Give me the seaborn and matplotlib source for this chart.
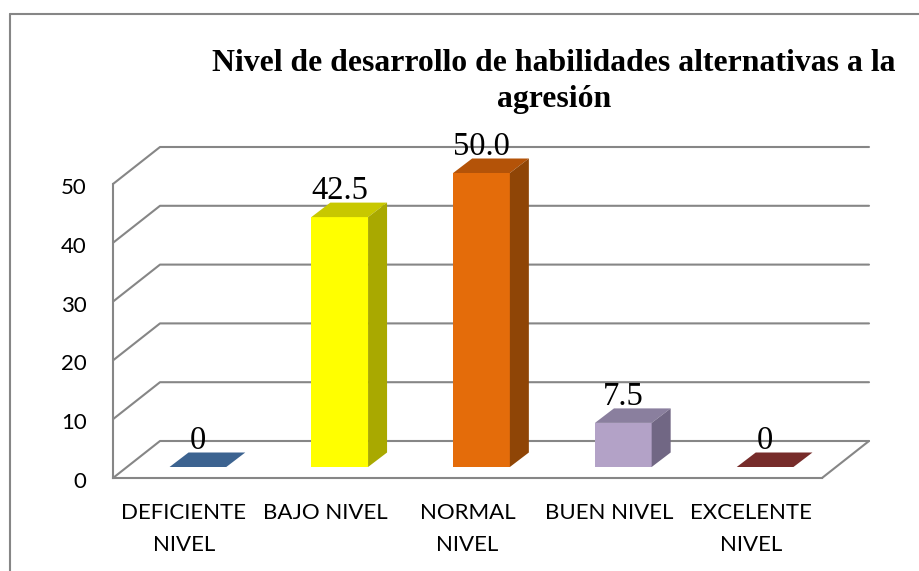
import matplotlib

matplotlib.use("Agg")
import matplotlib.pyplot as plt
import seaborn as sns
from matplotlib.lines import Line2D
from matplotlib.patches import Polygon
from matplotlib.transforms import ScaledTranslation

categories = ["DEFICIENTE\nNIVEL", "BAJO NIVEL", "NORMAL\nNIVEL", "BUEN NIVEL", "EXCELENTE\nNIVEL"]
values = [0, 42.5, 50.0, 7.5, 0]
value_labels = ["0", "42.5", "50.0", "7.5", "0"]
y_ticks = [0, 10, 20, 30, 40, 50]

front_colors = ["#3C6390", "#FFFF00", "#E46C0A", "#B3A2C7", "#772C2A"]
top_colors = ["#3C6390", "#C8C800", "#B45308", "#8A7F9E", "#772C2A"]
side_colors = ["#2D4B6E", "#A9A900", "#8F4506", "#716784", "#5A2120"]

GRID_COLOR = "#868686"
FIG_W, FIG_H = 920, 571
X_PX, Y_PX = 141.8, 5.88  # pixels per category / per value unit


def place(left, bottom_y):
    # axes rectangle from pixel position of its lower left corner
    return [left / FIG_W, 1 - bottom_y / FIG_H, 5 * X_PX / FIG_W, 50 * Y_PX / FIG_H]


sns.set_theme(style="white")
plt.rcParams["font.family"] = ["Lato", "DejaVu Sans"]

fig = plt.figure(figsize=(FIG_W / 100, FIG_H / 100), dpi=100)

# front plane holds the axis labels, bar plane sits a bit deeper
ax_front = fig.add_axes(place(113, 478))
ax = fig.add_axes(place(127, 467))
ax.patch.set_alpha(0)

sns.barplot(
    x=list(range(len(values))),
    y=values,
    hue=list(range(len(values))),
    palette=front_colors,
    saturation=1,
    width=0.4,
    linewidth=0,
    legend=False,
    ax=ax,
    zorder=3,
)
ax.set_xlim(-0.5, 4.5)
ax.set_ylim(0, 50)
ax.axis("off")

# walls: gridlines on the back plane and diagonals to the front plane
back_dx, back_dy = 33 / X_PX, 26 / Y_PX
front_dx, front_dy = -14 / X_PX, -11 / Y_PX
left = -0.5
right = 4.5
for tick in y_ticks:
    ax.plot(
        [left + front_dx, left + back_dx, right + back_dx],
        [tick + front_dy, tick + back_dy, tick + back_dy],
        color=GRID_COLOR,
        lw=1.5,
        clip_on=False,
        zorder=1,
    )
ax.plot(
    [right + front_dx, right + back_dx],
    [front_dy, back_dy],
    color=GRID_COLOR,
    lw=1.5,
    clip_on=False,
    zorder=1,
)

# bar depth: top and side faces follow the drawn bars
bar_dx, bar_dy = 19 / X_PX, 14.5 / Y_PX
bars = sorted(ax.patches, key=lambda p: p.get_x())
for bar, top, side in zip(bars, top_colors, side_colors):
    x0 = bar.get_x()
    x1 = x0 + bar.get_width()
    h = bar.get_height()
    ax.add_patch(
        Polygon(
            [(x0, h), (x1, h), (x1 + bar_dx, h + bar_dy), (x0 + bar_dx, h + bar_dy)],
            facecolor=top,
            edgecolor="none",
            clip_on=False,
            zorder=3,
        )
    )
    ax.add_patch(
        Polygon(
            [(x1, 0), (x1 + bar_dx, bar_dy), (x1 + bar_dx, h + bar_dy), (x1, h)],
            facecolor=side,
            edgecolor="none",
            clip_on=False,
            zorder=3,
        )
    )

for container, label in zip(ax.containers, value_labels):
    ax.bar_label(
        container,
        labels=[label],
        padding=8,
        fontsize=23.5,
        family="Liberation Serif",
        color="black",
        zorder=5,
    )

ax_front.set_xlim(-0.5, 4.5)
ax_front.set_ylim(0, 50)
ax_front.set_xticks(range(len(categories)))
ax_front.set_xticklabels(categories, linespacing=1.75)
ax_front.set_yticks(y_ticks)
ax_front.tick_params(axis="y", length=0, pad=19, labelsize=16, labelcolor="black")
ax_front.tick_params(axis="x", length=0, pad=18, labelsize=16, labelcolor="black")
for name, spine in ax_front.spines.items():
    spine.set_visible(name in ("left", "bottom"))
    spine.set_color(GRID_COLOR)
    spine.set_linewidth(1.5)

# numbers sit slightly below their gridline start
nudge = ScaledTranslation(0, -1.5 / 72, fig.dpi_scale_trans)
for label in ax_front.get_yticklabels():
    label.set_transform(label.get_transform() + nudge)

fig.suptitle(
    "Nivel de desarrollo de habilidades alternativas a la\nagresión",
    x=554 / FIG_W,
    y=1 - 49 / FIG_H,
    va="top",
    ha="center",
    fontsize=22.9,
    fontweight="bold",
    family="Liberation Serif",
    linespacing=1.3,
    color="black",
)

# outer chart frame, cut off on the right and at the bottom
fig.add_artist(Line2D([10 / FIG_W, 1], [1 - 14 / FIG_H] * 2, color=GRID_COLOR, lw=1.5))
fig.add_artist(Line2D([10 / FIG_W] * 2, [0, 1 - 14 / FIG_H], color=GRID_COLOR, lw=1.5))

fig.savefig("out.png", dpi=100)
plt.close(fig)
